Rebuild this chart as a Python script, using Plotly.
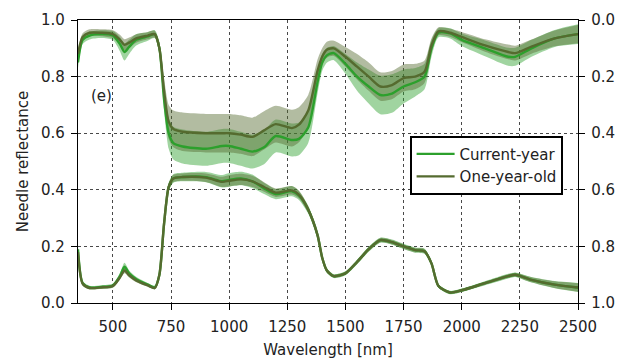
import plotly.graph_objects as go

wl = [350, 370, 400, 450, 500, 530, 550, 570, 600, 650, 680, 700, 720, 740, 760, 800, 900, 970, 1000,
      1050, 1100, 1150, 1200, 1270, 1300, 1340, 1380, 1400, 1420, 1450, 1500, 1550, 1600, 1650, 1700,
      1750, 1800, 1840, 1870, 1900, 1950, 2000, 2100, 2200, 2230, 2300, 2400, 2500]

# Reflectance (left axis)
R_cy = [0.19, 0.07, 0.055, 0.057, 0.062, 0.095, 0.128, 0.105, 0.085, 0.065, 0.055, 0.10, 0.28, 0.41, 0.44,
        0.445, 0.445, 0.43, 0.435, 0.44, 0.43, 0.405, 0.385, 0.395, 0.38, 0.33, 0.24, 0.16, 0.115, 0.095,
        0.105, 0.145, 0.19, 0.222, 0.215, 0.20, 0.187, 0.183, 0.14, 0.06, 0.037, 0.045, 0.07, 0.095, 0.10,
        0.082, 0.065, 0.055]
R_oy = [0.18, 0.068, 0.053, 0.055, 0.06, 0.09, 0.115, 0.098, 0.08, 0.062, 0.053, 0.10, 0.28, 0.41, 0.44,
        0.445, 0.443, 0.428, 0.432, 0.437, 0.43, 0.41, 0.39, 0.398, 0.383, 0.33, 0.24, 0.16, 0.115, 0.095,
        0.105, 0.145, 0.19, 0.222, 0.215, 0.20, 0.187, 0.183, 0.14, 0.06, 0.037, 0.045, 0.07, 0.095, 0.10,
        0.082, 0.065, 0.055]
sR_cy = [0.01, 0.008, 0.006, 0.006, 0.007, 0.01, 0.014, 0.01, 0.008, 0.006, 0.006, 0.01, 0.015, 0.015, 0.015,
         0.015, 0.018, 0.022, 0.024, 0.024, 0.024, 0.02, 0.018, 0.018, 0.016, 0.014, 0.012, 0.01, 0.008, 0.007,
         0.007, 0.008, 0.009, 0.009, 0.009, 0.009, 0.009, 0.009, 0.008, 0.006, 0.006, 0.006, 0.007, 0.008, 0.008,
         0.01, 0.013, 0.016]
sR_oy = [0.009, 0.007, 0.005, 0.005, 0.006, 0.008, 0.01, 0.008, 0.007, 0.005, 0.005, 0.009, 0.013, 0.013, 0.013,
         0.013, 0.015, 0.018, 0.02, 0.02, 0.02, 0.017, 0.015, 0.015, 0.014, 0.012, 0.01, 0.008, 0.007, 0.006,
         0.006, 0.007, 0.008, 0.008, 0.008, 0.008, 0.008, 0.008, 0.007, 0.005, 0.005, 0.005, 0.006, 0.007, 0.007,
         0.009, 0.012, 0.015]

# Transmittance (right, reversed axis)
T_cy = [0.15, 0.07, 0.055, 0.05, 0.055, 0.085, 0.113, 0.095, 0.07, 0.058, 0.05, 0.10, 0.28, 0.40, 0.435,
        0.447, 0.455, 0.445, 0.445, 0.455, 0.465, 0.45, 0.41, 0.424, 0.42, 0.38, 0.22, 0.15, 0.125, 0.117,
        0.155, 0.20, 0.235, 0.265, 0.26, 0.235, 0.22, 0.20, 0.10, 0.045, 0.047, 0.07, 0.10, 0.13, 0.13,
        0.10, 0.065, 0.05]
T_oy = [0.12, 0.06, 0.045, 0.045, 0.05, 0.07, 0.088, 0.08, 0.065, 0.055, 0.05, 0.10, 0.25, 0.36, 0.385,
        0.395, 0.40, 0.40, 0.40, 0.405, 0.413, 0.39, 0.368, 0.382, 0.37, 0.32, 0.18, 0.13, 0.105, 0.10,
        0.13, 0.165, 0.20, 0.235, 0.23, 0.205, 0.20, 0.183, 0.09, 0.04, 0.045, 0.06, 0.09, 0.113, 0.117,
        0.094, 0.065, 0.05]
sT_cy = [0.02, 0.015, 0.014, 0.014, 0.016, 0.025, 0.03, 0.025, 0.02, 0.015, 0.014, 0.02, 0.04, 0.055, 0.058,
         0.06, 0.06, 0.06, 0.06, 0.06, 0.06, 0.06, 0.058, 0.058, 0.058, 0.055, 0.04, 0.03, 0.026, 0.025,
         0.035, 0.05, 0.06, 0.068, 0.068, 0.06, 0.05, 0.045, 0.03, 0.016, 0.018, 0.022, 0.028, 0.032, 0.032,
         0.03, 0.03, 0.035]
sT_oy = [0.018, 0.013, 0.012, 0.012, 0.014, 0.018, 0.02, 0.018, 0.015, 0.013, 0.012, 0.02, 0.045, 0.06, 0.065,
         0.068, 0.068, 0.068, 0.068, 0.068, 0.068, 0.068, 0.065, 0.065, 0.062, 0.055, 0.04, 0.03, 0.028, 0.027,
         0.035, 0.045, 0.05, 0.05, 0.05, 0.048, 0.045, 0.04, 0.025, 0.014, 0.014, 0.018, 0.022, 0.026, 0.026,
         0.025, 0.028, 0.032]

series = [
    ("Current-year", "#2ca02c", "rgba(44,160,44,0.45)", R_cy, sR_cy, T_cy, sT_cy),
    ("One-year-old", "#556b2f", "rgba(85,107,47,0.45)", R_oy, sR_oy, T_oy, sT_oy),
]

fig = go.Figure()
line_shape = dict(shape="spline", smoothing=0.7)

# bands
for name, col, fcol, R, sR, T, sT in series:
    for vals, sd, ax in ((R, sR, "y"), (T, sT, "y2")):
        up = [v + s for v, s in zip(vals, sd)]
        lo = [v - s for v, s in zip(vals, sd)]
        fig.add_trace(go.Scatter(x=wl, y=up, mode="lines", line=dict(width=0, **line_shape),
                                 yaxis=ax, showlegend=False, hoverinfo="skip"))
        fig.add_trace(go.Scatter(x=wl, y=lo, mode="lines", line=dict(width=0, **line_shape),
                                 fill="tonexty", fillcolor=fcol, yaxis=ax, showlegend=False,
                                 hoverinfo="skip"))
# mean lines
for name, col, fcol, R, sR, T, sT in series:
    fig.add_trace(go.Scatter(x=wl, y=R, mode="lines", name=name, line=dict(color=col, width=2.4, **line_shape),
                             yaxis="y", legendgroup=name))
    fig.add_trace(go.Scatter(x=wl, y=T, mode="lines", name=name, line=dict(color=col, width=2.4, **line_shape),
                             yaxis="y2", showlegend=False, legendgroup=name))

FS = 15
tickfont = dict(family="DejaVu Sans", size=FS, color="#222")
gridc = "rgba(40,40,40,0.85)"
fig.update_layout(
    width=624, height=361,
    margin=dict(l=78, r=46, t=20, b=58),
    plot_bgcolor="white", paper_bgcolor="white",
    font=dict(family="DejaVu Sans", size=FS, color="#222"),
    xaxis=dict(range=[350, 2500], tickvals=[500, 750, 1000, 1250, 1500, 1750, 2000, 2250, 2500],
               showline=True, linecolor="black", linewidth=1.3, mirror=True,
               ticks="outside", ticklen=6, tickcolor="black", tickfont=tickfont, ticklabelstandoff=4,
               showgrid=True, gridcolor=gridc, griddash="dot", gridwidth=1,
               title=dict(text="Wavelength [nm]", font=dict(size=FS), standoff=9),
               zeroline=False, automargin=False),
    yaxis=dict(range=[0, 1], tickvals=[0, 0.2, 0.4, 0.6, 0.8, 1.0], tickformat=".1f",
               showline=True, linecolor="black", linewidth=1.3,
               ticks="outside", ticklen=6, tickcolor="black", tickfont=tickfont, ticklabelstandoff=3,
               showgrid=True, gridcolor=gridc, griddash="dot", gridwidth=1,
               title=dict(text="Needle reflectance", font=dict(size=FS), standoff=8),
               zeroline=False, automargin=False),
    yaxis2=dict(range=[1, 0], overlaying="y", side="right", tickvals=[0, 0.2, 0.4, 0.6, 0.8, 1.0],
                tickformat=".1f", showline=True, linecolor="black", linewidth=1.3,
                ticks="outside", ticklen=6, tickcolor="black", tickfont=tickfont, ticklabelstandoff=3,
                showgrid=False, zeroline=False, automargin=False),
    legend=dict(x=0.664, y=0.59, xanchor="left", yanchor="top", bgcolor="white",
                bordercolor="black", borderwidth=1.6, font=dict(size=FS), tracegroupgap=0,
                itemwidth=38),
    showlegend=True,
    annotations=[dict(x=450, y=0.73, xref="x", yref="y", text="(e)", showarrow=False,
                      font=dict(size=FS, color="#222"))],
)

fig.write_html("out.html")
